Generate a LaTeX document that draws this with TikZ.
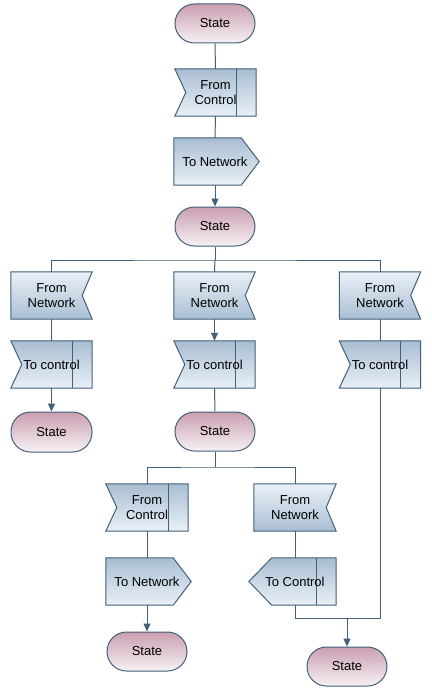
\documentclass[tikz,border=0pt]{standalone}
\usepackage{fontspec}
\setmainfont{Liberation Sans}
\usetikzlibrary{arrows.meta,calc}
\pgfdeclarelayer{bg}
\pgfsetlayers{bg,main}
\definecolor{edge}{HTML}{41607A}
\definecolor{spink}{HTML}{CA9FB1}
\definecolor{slight}{HTML}{F6F1F5}
\definecolor{bdark}{HTML}{A9BED2}
\definecolor{blight}{HTML}{EAF0F7}
\tikzset{
  lbl/.style={inner sep=0pt, minimum width=81pt, minimum height=47pt, align=center, font=\fontsize{13}{15}\selectfont},
  state/.style={rounded corners=19.5pt, minimum width=80pt, minimum height=39pt, inner sep=0pt, draw=edge, line width=1pt, top color=spink, bottom color=slight, font=\fontsize{13}{15}\selectfont},
  dk/.style={draw=edge, line width=1pt, top color=bdark, bottom color=blight},
  lt/.style={draw=edge, line width=1pt, top color=blight, bottom color=bdark},
  con/.style={draw=edge, line width=1pt},
  arr/.style={con, -{Triangle[length=8pt,width=7pt]}},
}
\newcommand\shpnotch[2]{\begin{pgfonlayer}{bg}
  \path[#2] (#1.north west) -- (#1.north east) -- (#1.south east) -- (#1.south west) -- ($(#1.west)+(11,0)$) -- cycle;
  \draw[con] ($(#1.north east)+(-20,0)$) -- ($(#1.south east)+(-20,0)$);
\end{pgfonlayer}}
\newcommand\shpfromnet[2]{\begin{pgfonlayer}{bg}
  \path[#2] (#1.north west) -- (#1.north east) -- ($(#1.east)+(-10,0)$) -- (#1.south east) -- (#1.south west) -- cycle;
\end{pgfonlayer}}
\newcommand\shptonet[2]{\begin{pgfonlayer}{bg}
  \path[#2] (#1.north west) -- ($(#1.north east)+(-15,0)$) -- ($(#1.east)+(3,0)$) -- ($(#1.south east)+(-15,0)$) -- (#1.south west) -- cycle;
\end{pgfonlayer}}
\newcommand\shptoleft[2]{\begin{pgfonlayer}{bg}
  \path[#2] ($(#1.west)+(-5,0)$) -- ($(#1.north west)+(18,0)$) -- (#1.north east) -- (#1.south east) -- ($(#1.south west)+(18,0)$) -- cycle;
  \draw[con] ($(#1.north east)+(-20,0)$) -- ($(#1.south east)+(-20,0)$);
\end{pgfonlayer}}
\begin{document}
\begin{tikzpicture}[x=1pt,y=1pt]
\useasboundingbox (0,0) rectangle (431,-693);
% top column
\node[state] (s1) at (215,-23.5) {State};
\node[lbl] (fc1) at (215.5,-92.5) {From\\Control};
\shpnotch{fc1}{dk}
\node[lbl, minimum width=82pt] (tn1) at (215,-161.5) {To Network};
\shptonet{tn1}{dk}
\node[state] (s2) at (215,-226.5) {State};
% left column
\node[lbl] (fnL) at (51.5,-295.5) {From\\Network};
\shpfromnet{fnL}{lt}
\node[lbl] (tcL) at (51.5,-364.5) {To control};
\shpnotch{tcL}{dk}
\node[state, minimum width=81pt, minimum height=40pt] (sL) at (51.5,-432) {State};
% middle column
\node[lbl] (fnM) at (214.5,-295.5) {From\\Network};
\shpfromnet{fnM}{lt}
\node[lbl] (tcM) at (214.5,-364.5) {To control};
\shpnotch{tcM}{dk}
\node[state] (sM) at (215,-431.5) {State};
% right column
\node[lbl] (fnR) at (380,-295.5) {From\\Network};
\shpfromnet{fnR}{lt}
\node[lbl] (tcR) at (380,-364.5) {To control};
\shpnotch{tcR}{dk}
% bottom left
\node[lbl, minimum width=82pt] (fcB) at (147,-507.5) {From\\Control};
\shpnotch{fcB}{dk}
\node[lbl, minimum width=82pt] (tnB) at (147,-581.5) {To Network};
\shptonet{tnB}{dk}
\node[state] (sB) at (147,-651.5) {State};
% bottom right
\node[lbl, minimum width=82pt] (fnB2) at (295,-507.5) {From\\Network};
\shpfromnet{fnB2}{lt}
\node[lbl, minimum width=82pt] (tcB2) at (295,-581.5) {To Control};
\shptoleft{tcB2}{dk}
\node[state] (sB2) at (347,-666.5) {State};
% junctions
\coordinate (j1) at (215,-260);
\coordinate (j2) at (215,-467);
\coordinate (j3) at (347,-618);
% connectors
\draw[con] (s1.south) -- (fc1.north);
\draw[con] (fc1.south) -- (tn1.north);
\draw[arr] (tn1.south) -- (s2.north);
\draw[con] (s2.south) -- (j1);
\draw[con] (fnL.north) |- (j1) -| (fnR.north);
\draw[con] (j1) -- (fnM.north);
\draw[con] (fnL.south) -- (tcL.north);
\draw[arr] (tcL.south) -- (sL.north);
\draw[arr] (fnM.south) -- (tcM.north);
\draw[con] (tcM.south) -- (sM.north);
\draw[con] (fnR.south) -- (tcR.north);
\draw[con] (tcR.south) |- (j3);
\draw[con] (sM.south) -- (j2);
\draw[con] (fcB.north) |- (j2) -| (fnB2.north);
\draw[con] (fcB.south) -- (tnB.north);
\draw[arr] (tnB.south) -- (sB.north);
\draw[con] (fnB2.south) -- (tcB2.north);
\draw[con] (tcB2.south) |- (j3);
\draw[arr] (j3) -- (sB2.north);
\end{tikzpicture}
\end{document}
